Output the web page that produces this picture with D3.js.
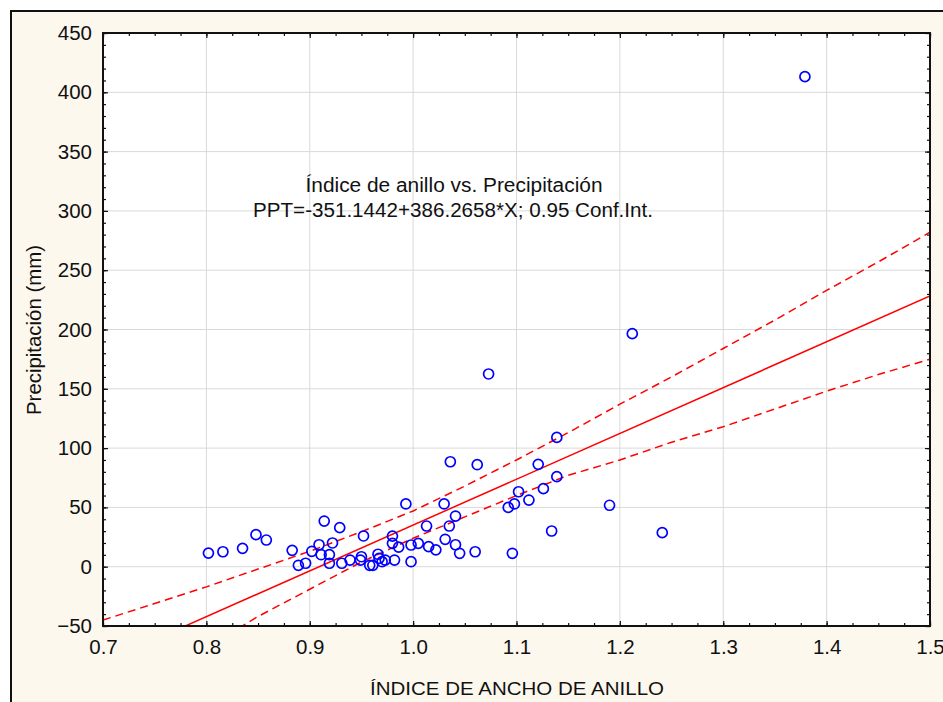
<!DOCTYPE html>
<html>
<head>
<meta charset="utf-8">
<script src="https://cdn.jsdelivr.net/npm/d3@7"></script>
<style>
  body { margin: 0; background: #fff; }
  #canvas { width: 943px; height: 702px; }
  text { font-family: "Liberation Sans", Arial, sans-serif; fill: #111; }
</style>
</head>
<body>
<div id="canvas"></div>
<script>
// data
const ringIndex = [0.802, 0.816, 0.835, 0.848, 0.858, 0.883, 0.889, 0.896, 0.902, 0.909, 0.914, 0.911, 0.919, 0.919, 0.922, 0.929, 0.931, 0.939, 0.949, 0.950, 0.952, 0.958, 0.961, 0.966, 0.967, 0.970, 0.973, 0.980, 0.980, 0.982, 0.986, 0.993, 0.998, 0.998, 1.005, 1.013, 1.015, 1.022, 1.030, 1.031, 1.035, 1.036, 1.041, 1.041, 1.045, 1.060, 1.062, 1.073, 1.092, 1.096, 1.098, 1.102, 1.112, 1.121, 1.126, 1.134, 1.139, 1.139, 1.190, 1.212, 1.241, 1.379];
const rainfall  = [11.5, 12.6, 15.5, 27.0, 22.5, 13.8, 1.2, 2.9, 13.0, 18.5, 38.5, 10.1, 10.1, 2.9, 20.0, 32.9, 2.9, 5.6, 5.6, 8.4, 25.9, 1.2, 1.2, 10.5, 7.0, 4.2, 5.6, 25.8, 19.7, 5.6, 16.5, 52.9, 4.2, 18.3, 19.7, 34.3, 16.9, 14.2, 52.9, 23.1, 34.3, 88.5, 42.7, 18.5, 11.3, 12.6, 86.0, 162.5, 50.0, 11.3, 52.9, 63.2, 56.2, 86.3, 65.8, 30.1, 109.0, 75.9, 51.8, 196.5, 28.7, 413.2];

// fitted line PPT = -351.1442 + 386.2658*X, end points
const fitX = [0.7, 1.5];
const fitY = [-80.76, 228.25];

// 0.95 confidence band
const bandX     = [0.70, 0.75, 0.80, 0.85, 0.90, 0.95, 1.00, 1.05, 1.10, 1.15, 1.20, 1.25, 1.30, 1.35, 1.40, 1.45, 1.50];
const bandUpper = [-45, -31, -17, -2, 13, 29.5, 47, 68, 90, 113, 137, 160, 184, 208, 233, 257, 282];
const bandLower = [-117, -92, -68, -42, -19, 4, 24, 42, 60, 77, 90, 105, 118, 133, 148, 162, 175];

const xTicks = [0.7, 0.8, 0.9, 1.0, 1.1, 1.2, 1.3, 1.4, 1.5];
const yTicks = [-50, 0, 50, 100, 150, 200, 250, 300, 350, 400, 450];

const title1 = "Índice de anillo vs. Precipitación";
const title2 = "PPT=-351.1442+386.2658*X; 0.95 Conf.Int.";
const xTitle = "ÍNDICE DE ANCHO DE ANILLO";
const yTitle = "Precipitación (mm)";

const w = 943, h = 702;
const pLeft = 103, pRight = 930, pTop = 33, pBottom = 626;

let svg = d3.select("#canvas")
            .append("svg")
                .attr("width", w)
                .attr("height", h)
                .attr("viewBox", [0, 0, w, h]);

// outer frame
svg.append("rect")
    .attr("x", 11).attr("y", 11)
    .attr("width", w).attr("height", h)
    .attr("fill", "#fdf8ee")
    .attr("stroke", "#111")
    .attr("stroke-width", 2);

let x = d3.scaleLinear().domain([0.7, 1.5]).range([pLeft, pRight]);
let y = d3.scaleLinear().domain([-50, 450]).range([pBottom, pTop]);

svg.append("rect")
    .attr("x", pLeft).attr("y", pTop)
    .attr("width", pRight - pLeft).attr("height", pBottom - pTop)
    .attr("fill", "#fff");

svg.append("clipPath").attr("id", "clip")
    .append("rect")
        .attr("x", pLeft).attr("y", pTop)
        .attr("width", pRight - pLeft).attr("height", pBottom - pTop);

// grid
let grid = svg.append("g").attr("stroke", "#d9d9d9").attr("stroke-width", 1);
grid.selectAll(".gx").data(xTicks.slice(1, -1)).enter().append("line")
    .attr("x1", d => x(d)).attr("x2", d => x(d))
    .attr("y1", pTop).attr("y2", pBottom);
grid.selectAll(".gy").data(yTicks.slice(1, -1)).enter().append("line")
    .attr("x1", pLeft).attr("x2", pRight)
    .attr("y1", d => y(d)).attr("y2", d => y(d));

let g = svg.append("g").attr("clip-path", "url(#clip)");

let band = (vals) => d3.line()
    .x((d, i) => x(bandX[i]))
    .y((d) => y(d))(vals);

g.append("path")
    .attr("d", band(bandUpper))
    .attr("fill", "none").attr("stroke", "#ff0000")
    .attr("stroke-width", 1.5).attr("stroke-dasharray", "8,5");
g.append("path")
    .attr("d", band(bandLower))
    .attr("fill", "none").attr("stroke", "#ff0000")
    .attr("stroke-width", 1.5).attr("stroke-dasharray", "8,5");

g.append("line")
    .attr("x1", x(fitX[0])).attr("y1", y(fitY[0]))
    .attr("x2", x(fitX[1])).attr("y2", y(fitY[1]))
    .attr("stroke", "#ff0000").attr("stroke-width", 1.5);

g.selectAll("circle")
        .data(ringIndex)
    .enter().append("circle")
        .attr("cx", (d) => x(d))
        .attr("cy", (d, i) => y(rainfall[i]))
        .attr("r", 5)
        .attr("fill", "none")
        .attr("stroke", "#0000ff")
        .attr("stroke-width", 1.7);

// axes, ticks inside on all four sides
let minorX = d3.range(0.7, 1.5001, 0.025);
let minorY = d3.range(-50, 450.001, 10);

let xAxisB = d3.axisBottom(x).tickValues(xTicks).tickSize(-5).tickFormat(d3.format(".1f")).tickPadding(13);
let xAxisT = d3.axisTop(x).tickValues(xTicks).tickSize(-5).tickFormat("");
let yAxisL = d3.axisLeft(y).tickValues(yTicks).tickSize(-5).tickPadding(11);
let yAxisR = d3.axisRight(y).tickValues(yTicks).tickSize(-5).tickFormat("");

svg.append("g").attr("transform", "translate(0," + pBottom + ")").call(xAxisB);
svg.append("g").attr("transform", "translate(0," + pTop + ")").call(xAxisT);
svg.append("g").attr("transform", "translate(" + pLeft + ",0)").call(yAxisL);
svg.append("g").attr("transform", "translate(" + pRight + ",0)").call(yAxisR);

svg.append("g").attr("transform", "translate(0," + pBottom + ")")
    .call(d3.axisBottom(x).tickValues(minorX).tickSize(-3).tickFormat(""));
svg.append("g").attr("transform", "translate(0," + pTop + ")")
    .call(d3.axisTop(x).tickValues(minorX).tickSize(-3).tickFormat(""));
svg.append("g").attr("transform", "translate(" + pLeft + ",0)")
    .call(d3.axisLeft(y).tickValues(minorY).tickSize(-3).tickFormat(""));
svg.append("g").attr("transform", "translate(" + pRight + ",0)")
    .call(d3.axisRight(y).tickValues(minorY).tickSize(-3).tickFormat(""));

svg.selectAll(".domain").remove();
svg.selectAll(".tick line").attr("stroke", "#111").attr("stroke-width", 1.2);
svg.selectAll(".tick text").attr("font-size", 20.5).attr("fill", "#111")
    .attr("font-family", "Liberation Sans, Arial, sans-serif");

// plot border
svg.append("rect")
    .attr("x", pLeft).attr("y", pTop)
    .attr("width", pRight - pLeft).attr("height", pBottom - pTop)
    .attr("fill", "none").attr("stroke", "#111").attr("stroke-width", 2);

// titles
svg.append("text")
    .attr("x", 454).attr("y", 192)
    .attr("text-anchor", "middle").attr("font-size", 20)
    .attr("textLength", 297).attr("lengthAdjust", "spacingAndGlyphs")
    .text(title1);
svg.append("text")
    .attr("x", 453).attr("y", 217)
    .attr("text-anchor", "middle").attr("font-size", 20)
    .attr("textLength", 400).attr("lengthAdjust", "spacingAndGlyphs")
    .text(title2);

svg.append("text")
    .attr("x", 517).attr("y", 695)
    .attr("text-anchor", "middle").attr("font-size", 19)
    .attr("textLength", 294).attr("lengthAdjust", "spacingAndGlyphs")
    .text(xTitle);

svg.append("text")
    .attr("transform", "translate(41,330) rotate(-90)")
    .attr("text-anchor", "middle").attr("font-size", 19.5)
    .attr("textLength", 170).attr("lengthAdjust", "spacingAndGlyphs")
    .text(yTitle);
</script>
</body>
</html>
